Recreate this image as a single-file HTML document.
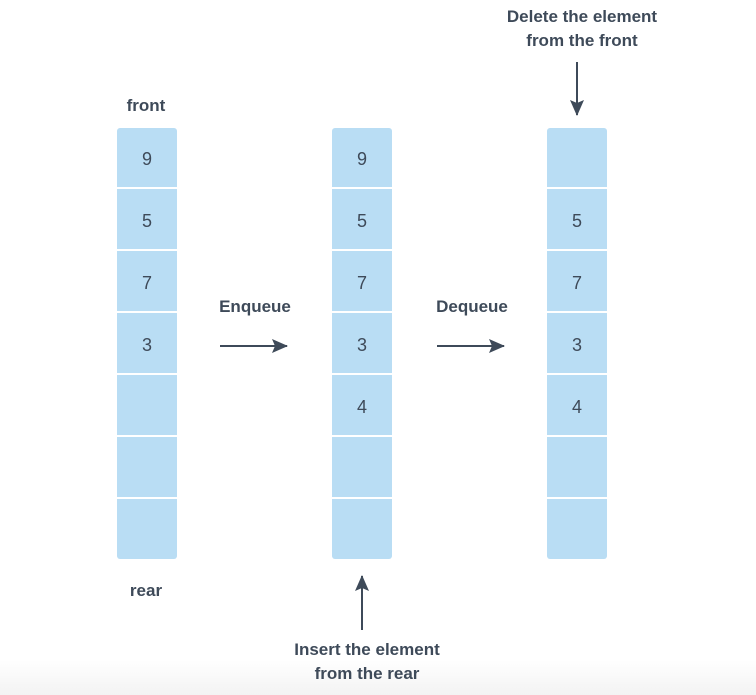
<!DOCTYPE html>
<html><head><style>
html,body{margin:0;padding:0;background:#fff;}
svg{display:block;}
.b{font-family:"Liberation Sans",sans-serif;font-weight:bold;font-size:17px;fill:#3e4a59;text-anchor:middle;}
.n{font-family:"Liberation Sans",sans-serif;font-size:18px;fill:#3e4a59;text-anchor:middle;}
</style></head><body>
<svg width="756" height="695" viewBox="0 0 756 695">
<defs>
<linearGradient id="g" x1="0" y1="0" x2="0" y2="1"><stop offset="0" stop-color="#fff"/><stop offset="1" stop-color="#f3f3f3"/></linearGradient>
<marker id="a" markerWidth="16" markerHeight="14" refX="15" refY="7" orient="auto" markerUnits="userSpaceOnUse"><path d="M0,0 L16,7 L0,14 L3,7 z" fill="#3e4a59"/></marker>
</defs>
<rect x="0" y="660" width="756" height="35" fill="url(#g)"/>
<g fill="#b9ddf4">
<rect x="117" y="128" width="60" height="431" rx="3"/>
<rect x="332" y="128" width="60" height="431" rx="3"/>
<rect x="547" y="128" width="60" height="431" rx="3"/>
</g>
<g fill="#fff">
<rect x="100" y="187" width="540" height="2"/>
<rect x="100" y="249" width="540" height="2"/>
<rect x="100" y="311" width="540" height="2"/>
<rect x="100" y="373" width="540" height="2"/>
<rect x="100" y="435" width="540" height="2"/>
<rect x="100" y="497" width="540" height="2"/>
<rect x="178" y="120" width="154" height="450"/>
<rect x="393" y="120" width="154" height="450"/>
</g>
<g class="n">
<text x="147" y="165">9</text><text x="147" y="227">5</text><text x="147" y="289">7</text><text x="147" y="351">3</text>
<text x="362" y="165">9</text><text x="362" y="227">5</text><text x="362" y="289">7</text><text x="362" y="351">3</text><text x="362" y="413">4</text>
<text x="577" y="227">5</text><text x="577" y="289">7</text><text x="577" y="351">3</text><text x="577" y="413">4</text>
</g>
<g class="b">
<text x="146" y="111">front</text>
<text x="146" y="596">rear</text>
<text x="255" y="312">Enqueue</text>
<text x="472" y="312">Dequeue</text>
<text x="582" y="22">Delete the element</text>
<text x="582" y="46">from the front</text>
<text x="367" y="655">Insert the element</text>
<text x="367" y="679">from the rear</text>
</g>
<g stroke="#3e4a59" stroke-width="2" fill="none">
<line x1="220" y1="346" x2="287" y2="346" marker-end="url(#a)"/>
<line x1="437" y1="346" x2="504" y2="346" marker-end="url(#a)"/>
<line x1="577" y1="62" x2="577" y2="115" marker-end="url(#a)"/>
<line x1="362" y1="630" x2="362" y2="576" marker-end="url(#a)"/>
</g>
</svg>
</body></html>
